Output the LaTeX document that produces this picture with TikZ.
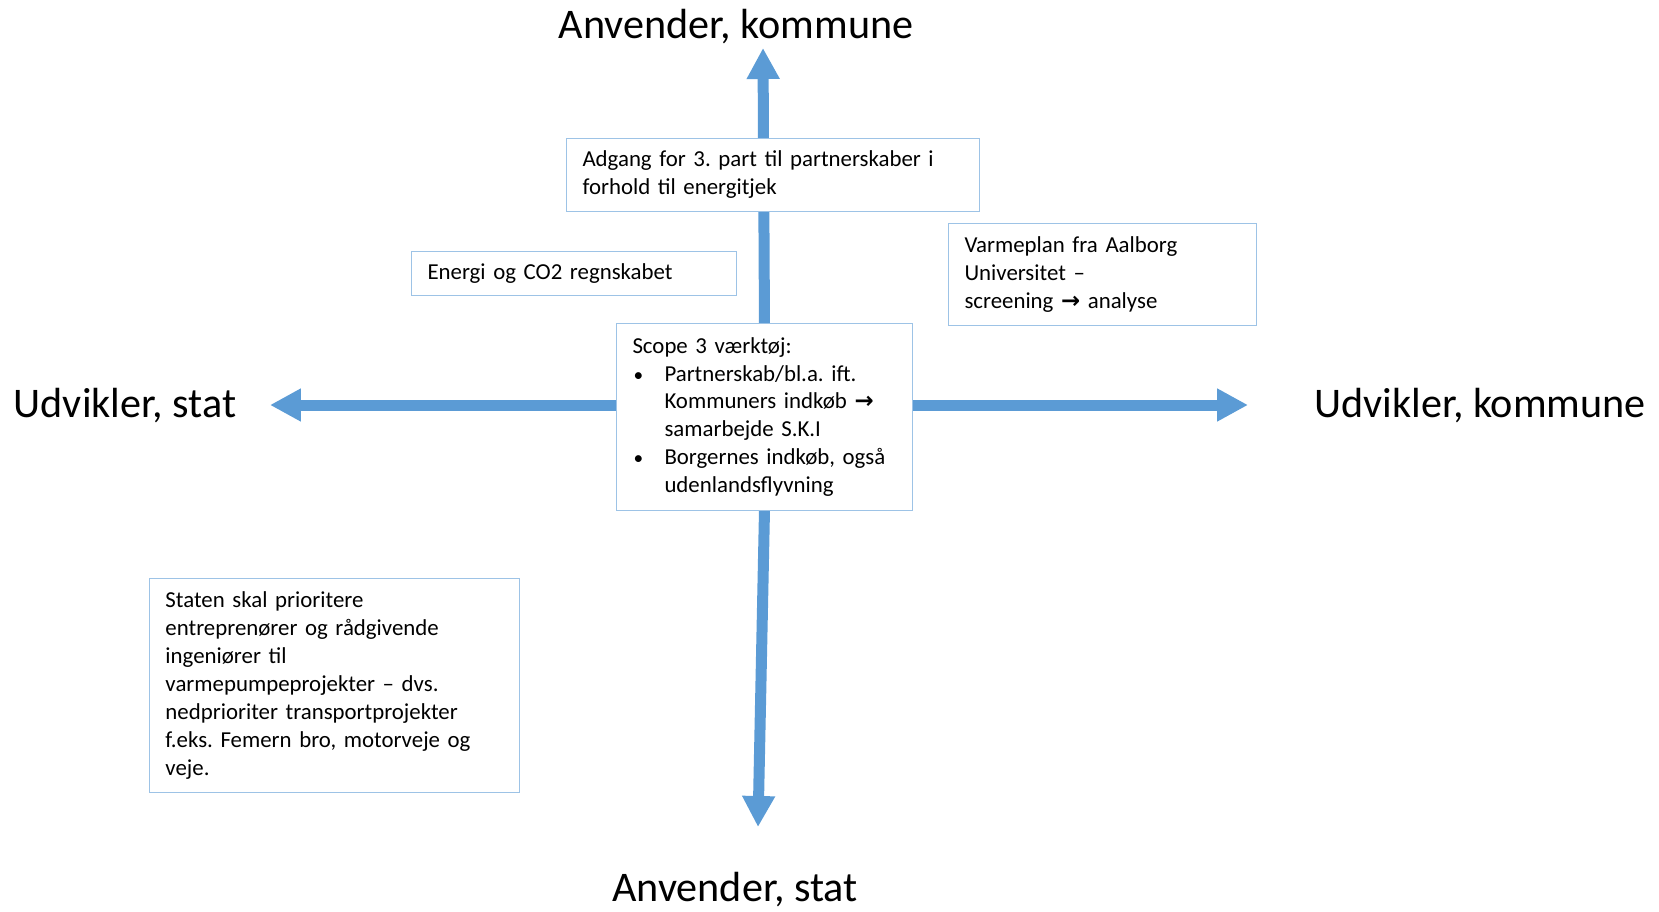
\documentclass[tikz,border=0pt]{standalone}
\usepackage{fontspec}
\setmainfont{Carlito}
\newfontfamily\symfont{DejaVu Sans}
\usetikzlibrary{arrows.meta, backgrounds}
\definecolor{arrowblue}{HTML}{5B9BD5}
\definecolor{boxblue}{HTML}{9DC3E6}
\newcommand{\rarr}{{\symfont\bfseries →}}
\newcommand{\bul}{\hspace*{0.02cm}\makebox[0.62cm][l]{\fontsize{11}{12}\selectfont •}}
\newcommand{\ind}{\hspace*{0.64cm}}
\frenchspacing

\begin{document}
\begin{tikzpicture}[x=0.02cm, y=-0.02cm,
    box/.style={draw=boxblue, line width=0.02cm, fill=white, align=left,
      anchor=north west, inner xsep=0.32cm, inner ysep=0pt,
      font=\fontsize{13}{15.9}\selectfont},
    axislabel/.style={anchor=base, inner sep=0pt, font=\fontsize{24}{28}\selectfont},
    axis/.style={draw=arrowblue, line width=0.22cm,
      -{Triangle[width=0.62cm,length=0.62cm]}}]
  \useasboundingbox (0,0) rectangle (1659,912);

  % boxes
  \node[box, text width=5.28cm, minimum height=3.74cm] (scope) at (616,323)
    {Scope 3 værktøj:\\
     \bul Partnerskab/bl.a. ift.\\
     \ind Kommuners indkøb \rarr\\
     \ind samarbejde S.K.I\\
     \bul Borgernes indkøb, også\\
     \ind udenlandsflyvning};
  \node[box, text width=7.62cm, minimum height=1.46cm] (adgang) at (566,138)
    {Adgang for 3. part til partnerskaber i\\forhold til energitjek};
  \node[box, text width=5.86cm, minimum height=0.88cm] (energi) at (411,251)
    {Energi og CO2 regnskabet};
  \node[box, text width=5.52cm, minimum height=2.04cm] (varme) at (948,223)
    {Varmeplan fra Aalborg\\Universitet --\\screening \rarr{} analyse};
  \node[box, text width=6.76cm, minimum height=4.28cm] (staten) at (149,578)
    {Staten skal prioritere\\entreprenører og rådgivende\\ingeniører til\\
     varmepumpeprojekter -- dvs.\\nedprioriter transportprojekter\\
     f.eks. Femern bro, motorveje og\\veje.};

  % axis labels
  \node[axislabel] (anvkom) at (736,39) {Anvender, kommune};
  \node[axislabel] (anvstat) at (735,901) {Anvender, stat};
  \node[axislabel] (udvstat) at (125,417) {Udvikler, stat};
  \node[axislabel] (udvkom) at (1480,417) {Udvikler, kommune};

  % arrow tips
  \coordinate (tipN) at (763,48);
  \coordinate (tipS) at (758,827);
  \coordinate (tipW) at (270,405);
  \coordinate (tipE) at (1248,405);

  \begin{pgfonlayer}{background}
    \draw[axis] (scope.north) -- (tipN);
    \draw[axis] (scope.south) -- (tipS);
    \draw[axis] (scope.west |- tipW) -- (tipW);
    \draw[axis] (scope.east |- tipE) -- (tipE);
  \end{pgfonlayer}
\end{tikzpicture}
\end{document}
